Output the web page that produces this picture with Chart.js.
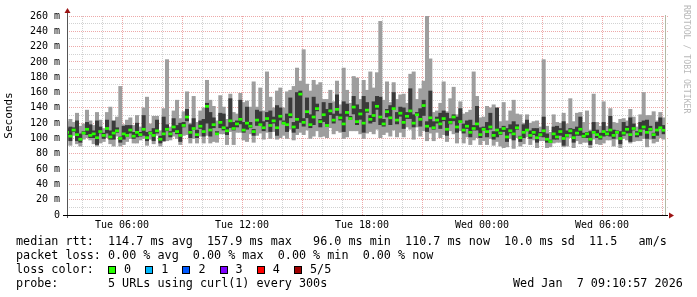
<!DOCTYPE html>
<html>
<head>
<meta charset="utf-8">
<script src="https://cdn.jsdelivr.net/npm/chart.js@4.4.1/dist/chart.umd.min.js"></script>
<style>
html,body{margin:0;padding:0;background:#fff;}
#wrap{position:relative;width:697px;height:297px;overflow:hidden;background:#fff;}
#c{position:absolute;left:0;top:0;}
.t{position:absolute;font-family:"DejaVu Sans Mono",monospace;font-size:11.75px;line-height:14px;white-space:pre;color:#000;}
.sq{position:absolute;width:8px;height:8px;box-sizing:border-box;border:1px solid #000;}
#rrd{position:absolute;left:682px;top:5px;writing-mode:vertical-rl;font-family:"DejaVu Sans Mono",monospace;font-size:8.2px;line-height:10px;color:#b8b8b8;white-space:pre;}
</style>
</head>
<body>
<div id="wrap">
<canvas id="c" width="697" height="297"></canvas>
<div id="rrd">RRDTOOL / TOBI OETIKER</div>
<div class="t" style="left:16px;top:234px">median rtt:  114.7 ms avg  157.9 ms max   96.0 ms min  110.7 ms now  10.0 ms sd  11.5   am/s</div>
<div class="t" style="left:16px;top:248px">packet loss: 0.00 % avg  0.00 % max  0.00 % min  0.00 % now</div>
<div class="t" style="left:16px;top:262px">loss color:</div>
<div class="t" style="left:16px;top:276px">probe:       5 URLs using curl(1) every 300s</div>
<div class="t" style="left:513px;top:276px">Wed Jan  7 09:10:57 2026</div>
</div>
<script>
// ---- time axis (hours since Tue 00:00) ----
const START_H = 3 + 10 / 60;   // first step starts 03:10
const STEP_H = 10 / 60;        // 10 minute consolidated steps
const X_MIN = 3.25, X_MAX = 33.3;

const xTickHours  = [6, 12, 18, 24, 30];
const xTickLabels = ['Tue 06:00', 'Tue 12:00', 'Tue 18:00', 'Wed 00:00', 'Wed 06:00'];
const yTickValues = [0, 20, 40, 60, 80, 100, 120, 140, 160, 180, 200, 220, 240, 260];
const yTickLabels = ['0', '20 m', '40 m', '60 m', '80 m', '100 m', '120 m', '140 m', '160 m', '180 m', '200 m', '220 m', '240 m', '260 m'];

// ---- series (ms) ----
const rttMedian = [
108,103,111,105,99,107,112,104,106,101,
109,104,113,102,107,110,100,106,104,111,
103,108,105,112,101,107,104,110,99,106,
112,106,115,109,104,117,128,108,113,105,
116,109,142,111,118,106,121,114,110,123,
113,119,125,111,120,116,109,124,118,114,
126,117,123,114,129,120,118,131,115,125,
157.9,121,135,118,128,139,122,131,117,136,
124,138,127,119,134,126,141,122,132,120,
137,125,130,142,128,119,135,127,139,124,
133,121,129,136,120,131,125,143,116,127,
114,124,119,126,112,121,128,115,122,111,
116,108,113,119,105,112,109,115,104,111,
107,113,102,110,106,114,101,108,111,104,
108,101,105,110,99,96.0,106,102,109,100,
104,110,101,107,112,103,106,99,108,105,
102,109,106,111,104,108,100,107,112,105,
113,106,110,115,108,112,105,111,114,110.7];

const rttP25 = [
105,97,109,97,95,106,105,101,101,92,
107,100,107,99,99,108,95,99,103,107,
100,102,103,104,97,106,97,107,94,97,
110,102,109,106,96,115,123,101,112,101,
113,103,120,103,114,105,114,111,105,114,
111,115,119,108,112,114,104,117,117,110,
122,109,120,104,124,119,109,127,108,113,
121,116,127,114,118,136,115,122,116,131,
120,130,124,109,129,125,132,118,125,108,
134,120,122,138,118,116,128,118,138,119,
129,113,126,126,115,130,116,130,109,115,
112,120,113,123,104,119,123,108,121,107,
113,102,111,111,101,111,102,112,99,102,
105,109,96,107,98,112,96,101,110,100,
105,95,103,102,95,95,99,99,104,91,
102,106,95,104,104,101,101,92,107,101,
99,103,104,103,100,107,93,104,107,96,
111,102,104,112,100,110,100,104,113,106];

const rttP75 = [
113,115,114,123,106,109,121,118,110,123,
115,107,124,110,123,114,102,116,117,117,
108,120,108,130,108,109,113,124,103,128,
118,109,126,117,120,121,138,118,126,111,
123,125,146,134,127,109,133,132,115,152,
121,123,150,121,141,121,112,137,135,122,
134,136,128,143,140,123,132,153,121,160,
162,126,153,131,154,145,125,147,138,146,
132,157,132,148,145,129,155,144,138,155,
147,130,148,155,154,125,138,143,160,134,
141,140,134,165,131,134,139,150,122,162,
122,128,133,136,133,126,131,128,139,119,
123,124,117,142,114,115,121,133,109,140,
113,116,113,118,122,118,103,118,124,110,
113,113,108,128,106,98,115,116,113,122,
110,113,112,115,128,107,108,109,121,111,
107,121,109,129,111,110,109,121,116,127,
119,109,121,123,124,116,107,121,127,117];

const rttMin = [
99,91,104,93,90,99,101,98,93,90,
94,96,101,93,90,103,90,92,96,100,
94,94,98,100,91,99,93,104,90,96,
97,98,103,100,92,104,105,94,100,94,
103,94,104,94,96,95,106,106,92,109,
92,108,108,98,96,106,95,104,107,99,
108,100,109,99,101,104,100,112,98,105,
108,105,111,100,103,110,102,103,101,114,
106,110,108,100,102,110,110,110,106,100,
107,109,106,112,101,105,108,103,111,102,
108,102,115,112,99,115,103,110,97,107,
97,108,101,105,96,110,106,94,110,94,
102,92,98,101,92,97,92,100,91,96,
90,88,89,100,87,101,90,93,102,92,
98,88,97,97,88,89,94,95,95,89,
90,101,88,97,93,95,95,88,99,93,
92,94,98,98,90,99,88,100,98,94,
96,97,97,100,89,99,94,96,101,99];

const rttMax = [
122,125,121,133,116,119,137,123,117,134,
124,113,134,141,120,128,168,118,124,127,
117,130,115,140,154,119,129,129,110,139,
203,115,136,150,126,135,161,120,155,121,
136,140,176,150,142,123,156,141,125,158,
134,132,159,147,149,141,174,141,166,136,
187,154,140,162,166,140,161,163,168,192,
175,216,171,162,176,170,173,151,151,163,
148,175,144,192,163,146,181,179,151,176,
163,187,166,186,253,150,174,147,173,151,
157,158,146,184,187,151,165,175,260,204,
134,136,146,174,135,152,167,131,148,132,
134,137,187,155,127,128,142,140,144,138,
122,147,123,136,150,132,131,120,131,120,
122,123,115,203,116,108,131,121,120,133,
119,152,122,133,134,121,136,111,158,121,
116,148,116,139,121,120,125,126,123,138,
128,115,131,160,130,130,135,123,134,127];

const lossLabels = ['0', '1', '2', '3', '4', '5/5'];
const lossColors = ['#26ff00', '#00b8ff', '#0059ff', '#7e00ff', '#ff0000', '#a00000'];

// ---- styles ----
const SMOKE_OUTER = '#9e9e9e';
const SMOKE_INNER = '#3a3a3a';
const MEDIAN_COLOR = lossColors[0];
const MEDIAN_HALF = 1.35; // ms half-height of median mark
const GRID_MINOR = '#d2d2d2';
const GRID_MAJOR = '#eda9a9';
const FONT = '"DejaVu Sans Mono", monospace';

// loss colour legend (HTML text)
const wrap = document.getElementById('wrap');
lossLabels.forEach((lab, k) => {
  const x0 = 108 + k * 37.2;
  const sq = document.createElement('div');
  sq.className = 'sq';
  sq.style.left = x0 + 'px';
  sq.style.top = '266px';
  sq.style.background = lossColors[k];
  wrap.appendChild(sq);
  const tx = document.createElement('div');
  tx.className = 't';
  tx.style.left = (x0 + 16) + 'px';
  tx.style.top = '262px';
  tx.textContent = lab;
  wrap.appendChild(tx);
});

const stepTimes = rttMedian.map((_, i) => START_H + (i + 0.5) * STEP_H);
const DATA_END = START_H + rttMedian.length * STEP_H;

const mk = (lo, hi) => stepTimes.map((t, i) => ({x: t, y: [lo[i], hi[i]]}));
const medianBars = stepTimes.map((t, i) => ({x: t, y: [rttMedian[i] - MEDIAN_HALF, rttMedian[i] + MEDIAN_HALF]}));

const barCommon = {grouped: false, barPercentage: 1, categoryPercentage: 1, borderWidth: 0, borderSkipped: false};

const axesPlugin = {
  id: 'rrdAxes',
  afterDatasetsDraw(chart) {
    const {ctx, chartArea: a, scales: {x}} = chart;
    ctx.save();
    ctx.lineWidth = 1;
    const xe = Math.round(x.getPixelForValue(DATA_END)) + 0.5;
    ctx.strokeStyle = '#b4b9a5';
    ctx.beginPath(); ctx.moveTo(xe, a.top - 1); ctx.lineTo(xe, a.bottom); ctx.stroke();
    const ax = a.left + 0.5, ay = a.bottom + 0.5;
    ctx.strokeStyle = '#555555';
    ctx.beginPath(); ctx.moveTo(ax, a.bottom + 3); ctx.lineTo(ax, a.top - 4); ctx.stroke();
    ctx.strokeStyle = '#000000';
    ctx.beginPath(); ctx.moveTo(a.left - 4, ay); ctx.lineTo(a.right, ay); ctx.stroke();
    ctx.fillStyle = '#9c1414';
    ctx.beginPath(); ctx.moveTo(ax - 3, a.top - 3); ctx.lineTo(ax + 3, a.top - 3); ctx.lineTo(ax, a.top - 8); ctx.closePath(); ctx.fill();
    ctx.beginPath(); ctx.moveTo(a.right + 1, ay - 3); ctx.lineTo(a.right + 1, ay + 3); ctx.lineTo(a.right + 6, ay); ctx.closePath(); ctx.fill();
    ctx.restore();
  }
};

Chart.defaults.font.family = FONT;

new Chart(document.getElementById('c'), {
  type: 'bar',
  data: {
    datasets: [
      Object.assign({label: 'median', data: medianBars, backgroundColor: MEDIAN_COLOR, order: 1}, barCommon),
      Object.assign({label: 'inner', data: mk(rttP25, rttP75), backgroundColor: SMOKE_INNER, order: 2}, barCommon),
      Object.assign({label: 'outer', data: mk(rttMin, rttMax), backgroundColor: SMOKE_OUTER, order: 3}, barCommon)
    ]
  },
  options: {
    responsive: false,
    devicePixelRatio: 1,
    animation: false,
    events: [],
    layout: {padding: {left: 0, right: 29, top: 16, bottom: 0}},
    plugins: {legend: {display: false}, tooltip: {enabled: false}, title: {display: false}},
    scales: {
      x: {
        type: 'linear',
        min: X_MIN, max: X_MAX,
        offset: false,
        grid: {
          offset: false, drawTicks: false, lineWidth: 1,
          color: c => (c.tick && c.tick.value % 3 === 0) ? GRID_MAJOR : GRID_MINOR
        },
        border: {display: false, dash: [1, 1]},
        ticks: {
          stepSize: 1, includeBounds: false, autoSkip: false, maxRotation: 0, minRotation: 0,
          padding: 4, color: '#000', font: {family: FONT, size: 10},
          callback: v => { const k = xTickHours.indexOf(v); return k >= 0 ? xTickLabels[k] : ''; }
        },
        afterFit: s => { s.height = 82; }
      },
      y: {
        type: 'linear',
        min: 0, max: 260,
        beginAtZero: true,
        grid: {
          drawTicks: false, lineWidth: 1,
          color: c => (c.tick && c.tick.value % 20 === 0) ? GRID_MAJOR : GRID_MINOR
        },
        border: {display: false, dash: [1, 1]},
        ticks: {
          stepSize: 10, autoSkip: false, padding: 7, color: '#000', font: {family: FONT, size: 10},
          callback: v => { const k = yTickValues.indexOf(v); return k >= 0 ? yTickLabels[k] : ''; }
        },
        title: {display: true, text: 'Seconds', color: '#000', font: {family: FONT, size: 11}, padding: {top: 3, bottom: 0}},
        afterFit: s => { s.width = 67; }
      }
    }
  },
  plugins: [axesPlugin]
});
</script>
</body>
</html>
